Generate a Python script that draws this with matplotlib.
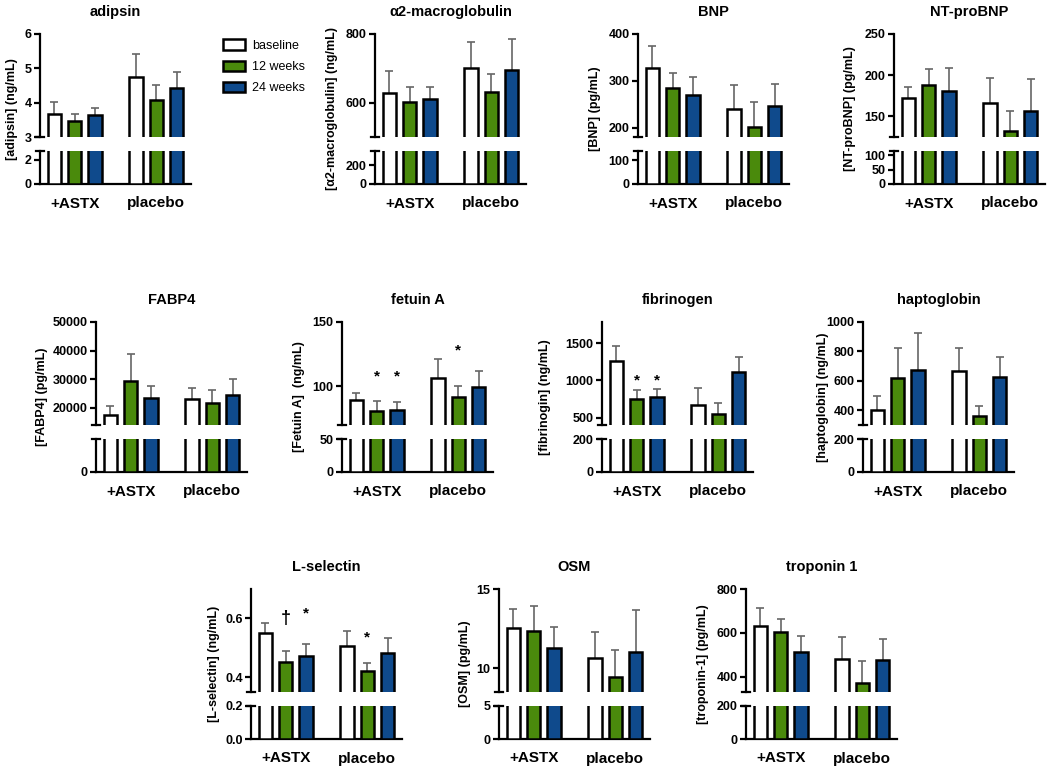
import numpy as np
import matplotlib
matplotlib.use('Agg')
import matplotlib.pyplot as plt
from matplotlib.patches import Patch

plt.rcParams['font.family'] = ['Liberation Sans', 'DejaVu Sans']
plt.rcParams['font.weight'] = 'bold'

groups = ['+ASTX', 'placebo']
series = ['baseline', '12 weeks', '24 weeks']
colors = ['white', '#4a8a0c', '#0f4a8c']

titles = ['adipsin', 'α2-macroglobulin', 'BNP', 'NT-proBNP',
          'FABP4', 'fetuin A', 'fibrinogen', 'haptoglobin',
          'L-selectin', 'OSM', 'troponin 1']
ylabels = ['[adipsin] (ng/mL)', '[α2-macroglobulin] (ng/mL)', '[BNP] (pg/mL)',
           '[NT-proBNP] (pg/mL)', '[FABP4] (pg/mL)', '[Fetuin A]  (ng/mL)',
           '[fibrinogin] (ng/mL)', '[haptoglobin] (ng/mL)', '[L-selectin] (ng/mL)',
           '[OSM] (pg/mL)', '[troponin-1] (pg/mL)']

# rows = groups (+ASTX, placebo), cols = baseline / 12 wk / 24 wk
means = [
    [[3.68, 3.47, 3.64], [4.76, 4.07, 4.43]],
    [[627, 603, 612], [700, 632, 696]],
    [[328, 284, 269], [239, 202, 246]],
    [[172, 188, 181], [166, 132, 156]],
    [[17500, 29500, 23500], [23000, 21800, 24600]],
    [[89.6, 80.8, 81.9], [106.7, 91.7, 99.7]],
    [[1267, 756, 778], [665, 552, 1109]],
    [[400, 620, 675], [664, 361, 624]],
    [[0.552, 0.451, 0.474], [0.505, 0.422, 0.481]],
    [[12.54, 12.33, 11.3], [10.67, 9.47, 11.0]],
    [[632, 603, 511], [480, 372, 478]],
]
errors = [
    [[0.35, 0.20, 0.21], [0.66, 0.44, 0.47]],
    [[65, 43, 34], [76, 51, 88]],
    [[47, 33, 40], [52, 52, 47]],
    [[14, 19, 28], [31, 25, 39]],
    [[3300, 9300, 4100], [4100, 4500, 5400]],
    [[5.4, 7.8, 6.1], [14.3, 8.8, 12.0]],
    [[194, 108, 104], [235, 140, 208]],
    [[98, 206, 247], [162, 67, 140]],
    [[0.033, 0.038, 0.038], [0.053, 0.027, 0.053]],
    [[1.18, 1.58, 1.3], [1.6, 1.66, 2.66]],
    [[81, 59, 75], [102, 99, 95]],
]

# broken axis: upper segment limits/ticks and lower segment limits/ticks
upper_lims = [(3, 6), (500, 800), (180, 400), (125, 250), (14000, 50000), (70, 150),
              (400, 1785), (300, 1000), (0.35, 0.7), (8.5, 15), (330, 800)]
upper_ticks = [[3, 4, 5, 6], [600, 800], [200, 300, 400], [150, 200, 250],
               [20000, 30000, 40000, 50000], [100, 150], [500, 1000, 1500],
               [400, 600, 800, 1000], [0.4, 0.6], [10, 15], [400, 600, 800]]
lower_lims = [2.75, 350, 140, 115, 10000, 50, 200, 200, 0.2, 5, 200]
lower_ticks = [[0, 2], [0, 200], [0, 100], [0, 50, 100], [0], [0, 50], [0, 200],
               [0, 200], [0.0, 0.2], [0, 5], [0, 200]]

# significance marks: panel, group, series, symbol, level
marks = [(5, 0, 1, '*', 108), (5, 0, 2, '*', 108), (5, 1, 1, '*', 127.5),
         (6, 0, 1, '*', 1000), (6, 0, 2, '*', 1000),
         (8, 0, 1, '†', 0.6), (8, 0, 2, '*', 0.617), (8, 1, 1, '*', 0.535)]

W, H = 1050, 770
fig = plt.figure(figsize=(W / 100, H / 100), dpi=100)

row_top = [34, 322, 589]
panel_row = [0, 0, 0, 0, 1, 1, 1, 1, 2, 2, 2]
panel_x = [40, 375, 638, 894, 96, 342, 602, 863, 251, 499, 746]
label_off = [28, 43, 43, 44, 54, 43, 57, 40, 37, 34, 43]
AW, HI, GAP, LO = 151, 103, 14, 33

centers = np.array([[0.7, 1.7, 2.7], [4.7, 5.7, 6.7]])
bw = 0.66


def rect(x, y, w, h):
    return [x / W, 1 - (y + h) / H, w / W, h / H]


def fmt(t):
    return '%.1f' % t if isinstance(t, float) and t < 1 else '%g' % t


for i in range(len(titles)):
    x0 = panel_x[i]
    top = row_top[panel_row[i]]
    m = np.array(means[i])
    e = np.array(errors[i])
    ax_hi = fig.add_axes(rect(x0, top, AW, HI))
    ax_lo = fig.add_axes(rect(x0, top + HI + GAP, AW, LO))
    for ax in (ax_hi, ax_lo):
        for s in range(3):
            ax.vlines(centers[:, s], m[:, s], m[:, s] + e[:, s], color='#666666', lw=1.2, zorder=2)
            ax.hlines(m[:, s] + e[:, s], centers[:, s] - 0.2, centers[:, s] + 0.2,
                      color='#666666', lw=1.2, zorder=2)
            ax.bar(centers[:, s], m[:, s], bw, color=colors[s], edgecolor='black',
                   lw=1.8, zorder=3)
        ax.set_xlim(0, 7.4)
        for sp in ('top', 'right'):
            ax.spines[sp].set_visible(False)
        ax.spines['left'].set_linewidth(1.6)
        ax.spines['bottom'].set_linewidth(1.6)
        ax.tick_params(axis='y', length=4, width=1.6, labelsize=9, pad=2)
        ax.patch.set_alpha(0)
    ax_hi.set_ylim(*upper_lims[i])
    ax_hi.set_yticks(upper_ticks[i], [fmt(t) for t in upper_ticks[i]], fontweight='bold')
    ax_hi.spines['bottom'].set_visible(False)
    ax_hi.set_xticks([])
    ax_lo.set_ylim(0, lower_lims[i])
    ax_lo.set_yticks(lower_ticks[i], [fmt(t) for t in lower_ticks[i]], fontweight='bold')
    ax_lo.set_xticks(centers[:, 1], groups, fontsize=11, fontweight='bold')
    ax_lo.tick_params(axis='x', length=0, pad=9)
    # break marks
    d = 4 / AW
    ax_hi.plot([-d, d], [0, 0], color='black', lw=1.6, transform=ax_hi.transAxes, clip_on=False)
    ax_lo.plot([-d, d], [1, 1], color='black', lw=1.6, transform=ax_lo.transAxes, clip_on=False)

    fig.text((x0 + AW / 2) / W, 1 - (top - 22) / H, titles[i], ha='center', va='center',
             fontsize=10.5, fontweight='bold')
    fig.text((x0 - label_off[i]) / W, 1 - (top + 75) / H, ylabels[i], ha='center',
             va='center', rotation=90, fontsize=9, fontweight='bold')

    for p, g, s, sym, y in marks:
        if p == i:
            ax_hi.text(centers[g, s], y, sym, ha='center', va='center',
                       fontsize=13 if sym == '†' else 11, fontweight='bold', zorder=4)

handles = [Patch(facecolor=c, edgecolor='black', lw=1.8) for c in colors]
fig.legend(handles, series, loc='upper left', bbox_to_anchor=(212 / W, 1 - 28 / H),
           frameon=False, handlelength=1.7, handleheight=0.9, labelspacing=0.7,
           handletextpad=0.6, prop={'size': 9, 'weight': 'normal'})

fig.savefig('out.png', dpi=100)
